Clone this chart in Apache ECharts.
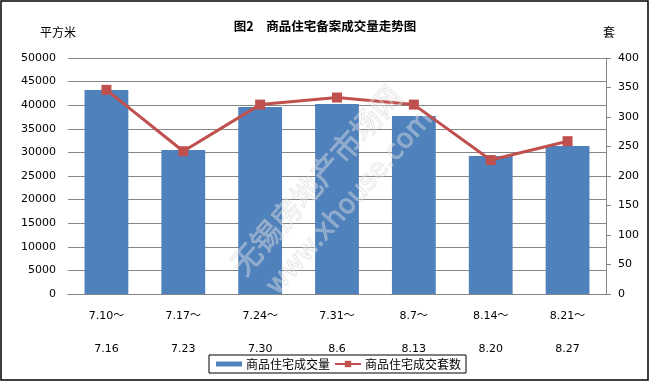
<!DOCTYPE html>
<html><head><meta charset="utf-8">
<script src="https://cdn.jsdelivr.net/npm/echarts@6/dist/echarts.min.js"></script>
<style>html,body{margin:0;padding:0;background:#fff}#c{width:650px;height:385px}</style>
</head><body><div id="c"></div>
<script>
var categories = ['7.10～\n7.16','7.17～\n7.23','7.24～\n7.30','7.31～\n8.6','8.7～\n8.13','8.14～\n8.20','8.21～\n8.27'];
var areaValues = [43200, 30500, 39600, 40250, 37700, 29250, 31350];
var unitValues = [346, 242, 321, 333, 321, 227, 259];
var leftTicks = {min: 0, max: 50000, interval: 5000};
var rightTicks = {min: 0, max: 400, interval: 50};
var titleText = '图2　商品住宅备案成交量走势图';
var seriesNames = ['商品住宅成交量', '商品住宅成交套数'];

var FONT = 'DejaVu Sans, "Noto Sans CJK SC", sans-serif';
var CJK = '"Noto Sans CJK SC", sans-serif';
var plain = function (v) { return String(v); };
var chart = echarts.init(document.getElementById('c'), null, {renderer: 'canvas'});
chart.setOption({
  animation: false,
  backgroundColor: '#fff',
  title: {text: titleText, left: 'center', top: 15,
    textStyle: {fontFamily: CJK, fontSize: 12.5, fontWeight: 'bold', color: '#000'}},
  grid: {left: 68, right: 44, top: 58, bottom: 91, containLabel: false},
  legend: {
    orient: 'horizontal',
    data: [{name: seriesNames[0], icon: 'path://M0,0L26,0L26,5L0,5Z'}, {name: seriesNames[1]}],
    left: 209, top: 355,
    borderColor: '#000', borderWidth: 1, padding: [3, 5, 3, 7], itemGap: 4,
    itemWidth: 26, itemHeight: 8,
    textStyle: {fontFamily: CJK, fontSize: 12, color: '#000', padding: [0, 0, 0, -1]}
  },
  xAxis: {
    type: 'category', data: categories,
    axisLine: {show: true, lineStyle: {color: '#868686'}},
    axisTick: {show: false},
    axisLabel: {fontFamily: FONT, fontSize: 11, color: '#000', lineHeight: 33, margin: 6, interval: 0}
  },
  yAxis: [{
    type: 'value', min: leftTicks.min, max: leftTicks.max, interval: leftTicks.interval,
    name: '平方米', nameLocation: 'end', nameGap: 20,
    nameTextStyle: {fontFamily: CJK, fontSize: 12, color: '#000', align: 'left', padding: [0, 0, 0, -28]},
    axisLine: {show: false}, axisTick: {show: false},
    axisLabel: {fontFamily: FONT, fontSize: 11, color: '#000', margin: 12, formatter: plain},
    splitLine: {lineStyle: {color: '#868686', width: 1}}
  }, {
    type: 'value', min: rightTicks.min, max: rightTicks.max, interval: rightTicks.interval,
    name: '套', nameLocation: 'end', nameGap: 20,
    nameTextStyle: {fontFamily: CJK, fontSize: 12, color: '#000', align: 'left', padding: [0, 0, 0, -3]},
    axisLine: {show: true, lineStyle: {color: '#868686'}},
    axisTick: {show: true, length: 5, lineStyle: {color: '#868686'}},
    axisLabel: {fontFamily: FONT, fontSize: 11, color: '#000', margin: 12, formatter: plain},
    splitLine: {show: false}
  }],
  series: [{
    name: seriesNames[0], type: 'bar', data: areaValues, yAxisIndex: 0,
    barWidth: '57%', itemStyle: {color: '#4F81BD'}
  }, {
    name: seriesNames[1], type: 'line', data: unitValues, yAxisIndex: 1,
    symbol: 'rect', symbolSize: 10,
    lineStyle: {color: '#C0504D', width: 3}, itemStyle: {color: '#C0504D'}
  }],
  graphic: [
    {type: 'rect', shape: {x: 1, y: 1, width: 647, height: 379}, style: {fill: 'none', stroke: '#000', lineWidth: 1.5}, z: 100},
    {type: 'text', x: 316, y: 180, rotation: 0.846, z: 50, silent: true,
      style: {text: '无锡房地产市场网', fontFamily: CJK, fontSize: 30, align: 'center', verticalAlign: 'middle',
        fill: 'rgba(255,255,255,0.3)', stroke: 'rgba(190,190,190,0.45)', lineWidth: 1}},
    {type: 'text', x: 350, y: 203, rotation: 0.846, z: 50, silent: true,
      style: {text: 'www.xhouse.com', fontFamily: FONT, fontSize: 27, align: 'center', verticalAlign: 'middle',
        fill: 'rgba(255,255,255,0.3)', stroke: 'rgba(190,190,190,0.45)', lineWidth: 1}}
  ]
});
</script></body></html>
